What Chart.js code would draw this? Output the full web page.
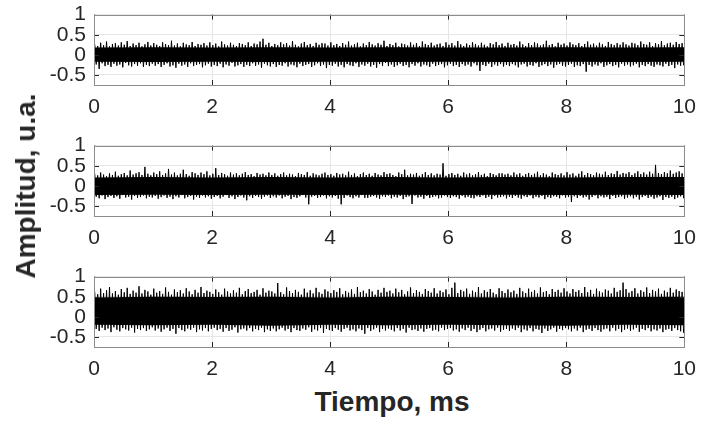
<!DOCTYPE html>
<html>
<head>
<meta charset="utf-8">
<script src="https://cdn.jsdelivr.net/npm/chart.js@4.4.0/dist/chart.umd.min.js"></script>
<style>
  body { margin: 0; background: #fff; }
  #wrap { position: relative; width: 706px; height: 421px; overflow: hidden; font-family: "Liberation Sans", Arial, sans-serif; }
  .panel { position: absolute; left: 0; }
  #ytitle { position: absolute; left: 26px; top: 186px; transform: translate(-50%, -50%) rotate(-90deg); font-weight: bold; font-size: 28px; color: #262626; white-space: nowrap; }
  #xtitle { position: absolute; left: 392px; top: 402px; transform: translate(-50%, -50%); font-weight: bold; font-size: 28px; color: #262626; white-space: nowrap; }
</style>
</head>
<body>
<div id="wrap">
  <div class="panel" style="top:-6px"><canvas id="c1" width="706" height="127"></canvas></div>
  <div class="panel" style="top:125px"><canvas id="c2" width="706" height="127"></canvas></div>
  <div class="panel" style="top:256px"><canvas id="c3" width="706" height="127"></canvas></div>
  <div id="ytitle">Amplitud, u.a.</div>
  <div id="xtitle">Tiempo, ms</div>
</div>
<script>
// eje de tiempo (ms) y marcas
const xTicks = [0, 2, 4, 6, 8, 10];
const yTicks = [-0.5, 0, 0.5, 1];
const coreTimes = [0, 1, 2, 3, 4, 5, 6, 7, 8, 9, 10];

// picos superiores / inferiores leidos cada 0.05 ms
const p1Hi = [0.26,0.22,0.30,0.24,0.33,0.21,0.27,0.29,0.23,0.31,0.25,0.34,0.22,0.28,0.24,0.30,0.21,0.26,0.32,0.23,
  0.29,0.25,0.22,0.31,0.27,0.24,0.35,0.23,0.28,0.21,0.30,0.26,0.24,0.32,0.22,0.27,0.25,0.29,0.23,0.31,
  0.24,0.28,0.21,0.33,0.26,0.23,0.30,0.25,0.22,0.29,0.27,0.24,0.31,0.22,0.28,0.26,0.33,0.40,0.25,0.30,
  0.22,0.27,0.24,0.31,0.26,0.29,0.23,0.34,0.25,0.21,0.28,0.32,0.24,0.27,0.22,0.30,0.25,0.29,0.28,0.23,
  0.31,0.24,0.27,0.22,0.29,0.25,0.33,0.23,0.26,0.30,0.21,0.28,0.24,0.32,0.26,0.23,0.29,0.25,0.35,0.22,
  0.27,0.24,0.30,0.21,0.28,0.26,0.23,0.31,0.25,0.29,0.22,0.33,0.27,0.24,0.30,0.23,0.26,0.28,0.22,0.31,
  0.25,0.29,0.23,0.34,0.26,0.22,0.28,0.24,0.31,0.27,0.23,0.30,0.25,0.21,0.29,0.26,0.32,0.24,0.28,0.22,
  0.30,0.25,0.27,0.23,0.33,0.26,0.22,0.29,0.24,0.31,0.28,0.23,0.26,0.35,0.24,0.27,0.21,0.30,0.25,0.28,
  0.23,0.31,0.26,0.24,0.29,0.22,0.27,0.33,0.25,0.28,0.23,0.30,0.26,0.22,0.32,0.27,0.24,0.29,0.25,0.31,
  0.26,0.23,0.30,0.28,0.24,0.33,0.27,0.25,0.31,0.22,0.29,0.26,0.34,0.24,0.28,0.30,0.25,0.32,0.27,0.29];
const p1Lo = [-0.24,-0.35,-0.21,-0.28,-0.25,-0.30,-0.22,-0.27,-0.24,-0.31,-0.20,-0.26,-0.29,-0.23,-0.27,-0.21,-0.30,-0.25,-0.28,-0.22,
  -0.27,-0.23,-0.30,-0.25,-0.21,-0.29,-0.26,-0.32,-0.22,-0.27,-0.24,-0.30,-0.21,-0.28,-0.25,-0.23,-0.31,-0.26,-0.22,-0.29,
  -0.25,-0.28,-0.22,-0.31,-0.24,-0.27,-0.20,-0.29,-0.26,-0.23,-0.30,-0.25,-0.28,-0.21,-0.27,-0.24,-0.32,-0.22,-0.26,-0.29,
  -0.23,-0.30,-0.25,-0.27,-0.21,-0.29,-0.24,-0.26,-0.31,-0.22,-0.28,-0.25,-0.23,-0.30,-0.26,-0.21,-0.28,-0.24,-0.33,-0.25,
  -0.27,-0.22,-0.29,-0.25,-0.31,-0.23,-0.26,-0.28,-0.21,-0.30,-0.24,-0.27,-0.22,-0.29,-0.25,-0.32,-0.23,-0.27,-0.20,-0.28,
  -0.24,-0.30,-0.26,-0.22,-0.28,-0.25,-0.31,-0.23,-0.27,-0.21,-0.29,-0.24,-0.26,-0.30,-0.22,-0.28,-0.25,-0.23,-0.31,-0.26,
  -0.22,-0.28,-0.25,-0.30,-0.23,-0.27,-0.24,-0.29,-0.21,-0.26,-0.40,-0.25,-0.28,-0.22,-0.30,-0.24,-0.27,-0.23,-0.29,-0.25,
  -0.28,-0.23,-0.26,-0.31,-0.24,-0.22,-0.29,-0.25,-0.27,-0.21,-0.30,-0.26,-0.23,-0.28,-0.24,-0.32,-0.25,-0.22,-0.27,-0.29,
  -0.25,-0.22,-0.30,-0.26,-0.28,-0.23,-0.42,-0.25,-0.29,-0.24,-0.27,-0.21,-0.30,-0.26,-0.23,-0.28,-0.25,-0.31,-0.22,-0.27,
  -0.24,-0.29,-0.26,-0.22,-0.31,-0.25,-0.28,-0.23,-0.27,-0.30,-0.24,-0.26,-0.29,-0.22,-0.28,-0.25,-0.33,-0.24,-0.27,-0.26];
const p1CoreHi = [0.18,0.19,0.18,0.19,0.18,0.19,0.18,0.18,0.19,0.18,0.19];
const p1CoreLo = [-0.17,-0.18,-0.17,-0.18,-0.17,-0.18,-0.17,-0.18,-0.17,-0.18,-0.17];

const p2Hi = [0.30,0.26,0.33,0.28,0.24,0.31,0.27,0.35,0.25,0.29,0.32,0.26,0.38,0.28,0.31,0.34,0.27,0.47,0.30,0.26,
  0.33,0.29,0.36,0.27,0.31,0.42,0.28,0.33,0.26,0.30,0.40,0.29,0.25,0.34,0.31,0.27,0.33,0.29,0.36,0.26,
  0.30,0.44,0.27,0.32,0.29,0.25,0.33,0.28,0.31,0.26,0.30,0.34,0.27,0.29,0.24,0.32,0.28,0.30,0.26,0.33,
  0.27,0.31,0.25,0.29,0.33,0.26,0.30,0.28,0.24,0.32,0.29,0.27,0.34,0.25,0.31,0.28,0.26,0.30,0.33,0.27,
  0.29,0.25,0.32,0.28,0.30,0.26,0.35,0.27,0.31,0.24,0.29,0.33,0.27,0.30,0.25,0.32,0.28,0.26,0.34,0.29,
  0.31,0.27,0.24,0.33,0.29,0.40,0.26,0.30,0.28,0.32,0.25,0.29,0.34,0.27,0.31,0.26,0.30,0.28,0.56,0.25,
  0.29,0.32,0.27,0.30,0.25,0.33,0.28,0.31,0.26,0.29,0.34,0.27,0.30,0.24,0.32,0.29,0.26,0.31,0.31,0.28,
  0.30,0.26,0.33,0.28,0.31,0.25,0.29,0.32,0.27,0.30,0.35,0.26,0.31,0.28,0.24,0.33,0.29,0.27,0.31,0.26,
  0.34,0.28,0.31,0.25,0.30,0.36,0.27,0.32,0.29,0.26,0.33,0.30,0.28,0.35,0.27,0.31,0.29,0.37,0.28,0.32,
  0.30,0.34,0.27,0.31,0.36,0.29,0.33,0.28,0.35,0.30,0.52,0.32,0.29,0.34,0.31,0.38,0.30,0.33,0.36,0.31];
const p2Lo = [-0.27,-0.31,-0.24,-0.33,-0.28,-0.25,-0.30,-0.26,-0.32,-0.23,-0.29,-0.27,-0.34,-0.25,-0.30,-0.28,-0.24,-0.31,-0.27,-0.29,
  -0.25,-0.32,-0.28,-0.24,-0.30,-0.27,-0.33,-0.26,-0.29,-0.23,-0.31,-0.28,-0.25,-0.34,-0.27,-0.30,-0.24,-0.29,-0.26,-0.32,
  -0.28,-0.25,-0.31,-0.27,-0.23,-0.30,-0.26,-0.33,-0.28,-0.24,-0.29,-0.36,-0.26,-0.30,-0.25,-0.28,-0.32,-0.27,-0.24,-0.30,
  -0.26,-0.29,-0.24,-0.31,-0.27,-0.25,-0.33,-0.28,-0.30,-0.26,-0.23,-0.29,-0.46,-0.27,-0.25,-0.30,-0.28,-0.24,-0.31,-0.26,
  -0.29,-0.25,-0.32,-0.46,-0.30,-0.24,-0.28,-0.31,-0.26,-0.29,-0.23,-0.30,-0.30,-0.27,-0.25,-0.29,-0.32,-0.26,-0.28,-0.24,
  -0.31,-0.27,-0.29,-0.25,-0.33,-0.28,-0.26,-0.45,-0.24,-0.29,-0.27,-0.32,-0.25,-0.30,-0.28,-0.26,-0.31,-0.29,-0.24,-0.28,
  -0.30,-0.26,-0.28,-0.32,-0.25,-0.29,-0.27,-0.30,-0.31,-0.26,-0.28,-0.24,-0.30,-0.27,-0.33,-0.25,-0.29,-0.28,-0.26,-0.31,
  -0.27,-0.30,-0.25,-0.29,-0.32,-0.26,-0.28,-0.24,-0.31,-0.27,-0.29,-0.25,-0.33,-0.28,-0.30,-0.26,-0.27,-0.31,-0.24,-0.29,
  -0.28,-0.40,-0.26,-0.30,-0.25,-0.29,-0.27,-0.34,-0.28,-0.24,-0.31,-0.26,-0.29,-0.27,-0.33,-0.25,-0.30,-0.28,-0.26,-0.32,
  -0.29,-0.26,-0.31,-0.27,-0.34,-0.28,-0.25,-0.30,-0.27,-0.32,-0.29,-0.26,-0.35,-0.28,-0.30,-0.27,-0.33,-0.29,-0.26,-0.31];
const p2CoreHi = [0.21,0.22,0.21,0.22,0.21,0.22,0.21,0.22,0.21,0.22,0.22];
const p2CoreLo = [-0.23,-0.22,-0.23,-0.22,-0.23,-0.22,-0.23,-0.22,-0.23,-0.22,-0.23];

const p3Hi = [0.62,0.56,0.70,0.59,0.66,0.74,0.58,0.64,0.55,0.69,0.61,0.72,0.57,0.65,0.60,0.76,0.58,0.67,0.63,0.55,
  0.70,0.60,0.64,0.57,0.73,0.62,0.55,0.68,0.61,0.66,0.58,0.71,0.63,0.56,0.67,0.60,0.74,0.59,0.65,0.62,
  0.57,0.68,0.61,0.55,0.70,0.63,0.58,0.66,0.60,0.72,0.56,0.64,0.69,0.59,0.62,0.67,0.55,0.71,0.60,0.65,
  0.63,0.58,0.84,0.61,0.56,0.73,0.64,0.59,0.67,0.62,0.55,0.70,0.60,0.66,0.58,0.72,0.61,0.57,0.68,0.63,
  0.59,0.66,0.62,0.71,0.56,0.64,0.60,0.68,0.57,0.74,0.61,0.65,0.58,0.69,0.63,0.55,0.67,0.60,0.72,0.62,
  0.65,0.58,0.70,0.61,0.67,0.56,0.63,0.73,0.59,0.66,0.62,0.57,0.69,0.64,0.60,0.71,0.58,0.65,0.61,0.68,
  0.56,0.72,0.85,0.59,0.67,0.63,0.70,0.57,0.65,0.61,0.74,0.58,0.66,0.62,0.69,0.60,0.56,0.71,0.64,0.59,
  0.68,0.61,0.65,0.57,0.72,0.63,0.59,0.70,0.62,0.66,0.58,0.73,0.61,0.64,0.56,0.69,0.62,0.67,0.60,0.71,
  0.63,0.58,0.69,0.62,0.66,0.59,0.74,0.61,0.67,0.57,0.70,0.63,0.60,0.68,0.65,0.58,0.72,0.62,0.66,0.85,
  0.69,0.60,0.64,0.71,0.58,0.66,0.62,0.73,0.59,0.67,0.63,0.70,0.57,0.65,0.61,0.72,0.60,0.68,0.64,0.62];
const p3Lo = [-0.30,-0.35,-0.27,-0.33,-0.29,-0.38,-0.26,-0.32,-0.36,-0.28,-0.31,-0.34,-0.27,-0.39,-0.30,-0.33,-0.28,-0.35,-0.31,-0.26,
  -0.34,-0.29,-0.37,-0.31,-0.27,-0.35,-0.30,-0.42,-0.28,-0.33,-0.36,-0.29,-0.32,-0.27,-0.38,-0.31,-0.34,-0.28,-0.36,-0.30,
  -0.27,-0.33,-0.30,-0.37,-0.28,-0.35,-0.32,-0.26,-0.39,-0.31,-0.29,-0.34,-0.28,-0.36,-0.30,-0.33,-0.27,-0.38,-0.31,-0.35,
  -0.29,-0.36,-0.31,-0.27,-0.34,-0.30,-0.38,-0.28,-0.33,-0.35,-0.29,-0.32,-0.26,-0.37,-0.31,-0.34,-0.28,-0.40,-0.30,-0.33,
  -0.35,-0.28,-0.32,-0.37,-0.30,-0.27,-0.34,-0.31,-0.36,-0.29,-0.33,-0.42,-0.28,-0.35,-0.31,-0.27,-0.38,-0.30,-0.34,-0.29,
  -0.32,-0.36,-0.28,-0.34,-0.30,-0.39,-0.27,-0.33,-0.31,-0.35,-0.29,-0.37,-0.30,-0.28,-0.34,-0.32,-0.36,-0.27,-0.33,-0.30,
  -0.28,-0.34,-0.31,-0.37,-0.29,-0.33,-0.27,-0.35,-0.30,-0.38,-0.32,-0.28,-0.36,-0.31,-0.29,-0.34,-0.27,-0.37,-0.32,-0.30,
  -0.35,-0.29,-0.33,-0.27,-0.38,-0.31,-0.34,-0.28,-0.36,-0.30,-0.32,-0.40,-0.29,-0.35,-0.31,-0.27,-0.37,-0.30,-0.33,-0.28,
  -0.31,-0.36,-0.29,-0.34,-0.27,-0.38,-0.32,-0.30,-0.35,-0.28,-0.33,-0.37,-0.31,-0.29,-0.36,-0.27,-0.34,-0.30,-0.38,-0.32,
  -0.29,-0.35,-0.31,-0.27,-0.37,-0.30,-0.33,-0.28,-0.36,-0.31,-0.34,-0.29,-0.38,-0.32,-0.30,-0.35,-0.28,-0.33,-0.36,-0.40];
const p3CoreHi = [0.48,0.50,0.49,0.50,0.48,0.50,0.49,0.48,0.50,0.49,0.50];
const p3CoreLo = [-0.20,-0.21,-0.20,-0.22,-0.20,-0.21,-0.20,-0.21,-0.22,-0.20,-0.21];

const BIN = 0.05;

// caja completa + marcas hacia dentro (estilo MATLAB)
const boxPlugin = {
  id: 'box',
  afterDatasetsDraw(chart) {
    const { ctx, chartArea: a, scales } = chart;
    ctx.save();
    ctx.strokeStyle = '#262626';
    ctx.lineWidth = 1;
    ctx.beginPath();
    xTicks.forEach(v => {
      const px = Math.round(scales.x.getPixelForValue(v)) + 0.5;
      ctx.moveTo(px, a.bottom); ctx.lineTo(px, a.bottom - 5);
      ctx.moveTo(px, a.top); ctx.lineTo(px, a.top + 5);
    });
    yTicks.forEach(v => {
      const py = Math.round(scales.y.getPixelForValue(v)) + 0.5;
      ctx.moveTo(a.left, py); ctx.lineTo(a.left + 5, py);
      ctx.moveTo(a.right, py); ctx.lineTo(a.right - 5, py);
    });
    ctx.stroke();
    ctx.strokeStyle = '#8c8c8c';
    ctx.strokeRect(Math.round(a.left) + 0.5, Math.round(a.top) + 0.5,
      Math.round(a.right - a.left), Math.round(a.bottom - a.top));
    ctx.restore();
  }
};

function makePanel(id, hi, lo, coreHi, coreLo) {
  const signal = [];
  hi.forEach((h, i) => {
    signal.push({ x: (i + 0.25) * BIN, y: h });
    signal.push({ x: (i + 0.75) * BIN, y: lo[i] });
  });
  const top = coreTimes.map((t, i) => ({ x: t, y: coreHi[i] }));
  const bottom = coreTimes.map((t, i) => ({ x: t, y: coreLo[i] }));

  new Chart(document.getElementById(id), {
    type: 'line',
    data: {
      datasets: [
        { data: top, borderWidth: 0, pointRadius: 0, fill: '+1', backgroundColor: '#000' },
        { data: bottom, borderWidth: 0, pointRadius: 0, fill: false },
        { data: signal, borderColor: '#000', borderWidth: 1, pointRadius: 0, fill: false, tension: 0 }
      ]
    },
    options: {
      responsive: false,
      animation: false,
      events: [],
      layout: { padding: { top: 10, right: 16, left: 0, bottom: 0 } },
      plugins: { legend: { display: false }, tooltip: { enabled: false } },
      scales: {
        x: {
          type: 'linear', min: 0, max: 10,
          afterBuildTicks: s => { s.ticks = xTicks.map(v => ({ value: v })); },
          afterFit: s => { s.height = 36; },
          grid: { color: '#e6e6e6', drawTicks: false },
          border: { display: false },
          ticks: { color: '#262626', padding: 10, autoSkip: false, maxRotation: 0,
            font: { family: '"Liberation Sans", Arial', size: 21 } }
        },
        y: {
          min: -0.75, max: 1,
          afterBuildTicks: s => { s.ticks = yTicks.map(v => ({ value: v })); },
          afterFit: s => { s.width = 94; },
          grid: { color: '#e6e6e6', drawTicks: false },
          border: { display: false },
          ticks: { color: '#262626', padding: 8, autoSkip: false,
            font: { family: '"Liberation Sans", Arial', size: 21 },
            callback: v => String(v) }
        }
      }
    },
    plugins: [boxPlugin]
  });
}

makePanel('c1', p1Hi, p1Lo, p1CoreHi, p1CoreLo);
makePanel('c2', p2Hi, p2Lo, p2CoreHi, p2CoreLo);
makePanel('c3', p3Hi, p3Lo, p3CoreHi, p3CoreLo);
</script>
</body>
</html>
